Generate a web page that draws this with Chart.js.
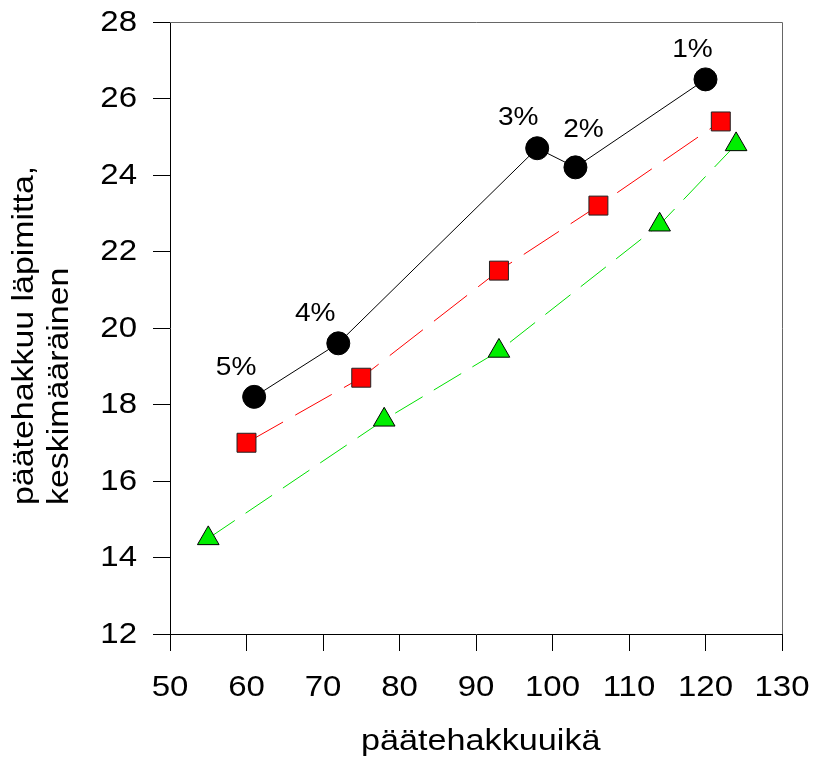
<!DOCTYPE html>
<html>
<head>
<meta charset="utf-8">
<script src="https://cdn.jsdelivr.net/npm/chart.js"></script>
<style>
  html, body { margin:0; padding:0; background:#fff; }
  #wrap { width:813px; height:766px; }
</style>
</head>
<body>
<div id="wrap"><canvas id="chart" width="813" height="766"></canvas></div>
<script>
// data
const ageBlack = [61, 72, 98, 103, 120];
const diamBlack = [18.2, 19.6, 24.7, 24.2, 26.5];
const ageRed = [60, 75, 93, 106, 122];
const diamRed = [17.0, 18.7, 21.5, 23.2, 25.4];
const ageGreen = [55, 78, 93, 114, 124];
const diamGreen = [14.5, 17.6, 19.4, 22.7, 24.8];
const pctLabels = ["5%", "4%", "3%", "2%", "1%"];

const xMin = 50, xMax = 130, xStep = 10;
const yMin = 12, yMax = 28, yStep = 2;
const xTitle = "päätehakkuuikä";
const yTitle = ["päätehakkuu läpimitta,", "keskimääräinen"];

// label offsets from the black points (px, baseline)
const labelOffsets = [[-18, -21.5], [-23, -22], [-19, -23], [8, -30.5], [-13, -22.5]];

const FONT = "'Liberation Sans', Arial, sans-serif";

// the original text is a bit wider than Arial, so stretch it a little
function txt(ctx, s, x, y, align, size, sx) {
  ctx.save();
  ctx.font = size + "px " + FONT;
  ctx.textAlign = align;
  ctx.textBaseline = "alphabetic";
  ctx.translate(x, y);
  ctx.scale(sx, 1);
  ctx.fillText(s, 0, 0);
  ctx.restore();
}

const pts = (xs, ys) => xs.map((x, i) => ({ x, y: ys[i] }));

const extras = {
  id: "extras",
  afterDraw(chart) {
    const { ctx, chartArea: a, scales } = chart;
    ctx.save();
    // top and right frame
    ctx.strokeStyle = "#666";
    ctx.lineWidth = 1;
    ctx.beginPath();
    ctx.moveTo(a.left, a.top + 0.5);
    ctx.lineTo(a.right + 0.5, a.top + 0.5);
    ctx.lineTo(a.right + 0.5, a.bottom);
    ctx.stroke();
    ctx.fillStyle = "#000";

    // tick labels
    scales.y.ticks.forEach(t => {
      txt(ctx, String(t.value), 137, scales.y.getPixelForValue(t.value) + 8.7, "right", 30, 1.1);
    });
    scales.x.ticks.forEach(t => {
      txt(ctx, String(t.value), scales.x.getPixelForValue(t.value), 696, "center", 30, 1.1);
    });

    // percent labels
    pctLabels.forEach((s, i) => {
      const px = scales.x.getPixelForValue(ageBlack[i]) + labelOffsets[i][0];
      const py = scales.y.getPixelForValue(diamBlack[i]) + labelOffsets[i][1];
      txt(ctx, s, px, py, "center", 26, 1.08);
    });

    // x title
    txt(ctx, xTitle, 361, 750, "left", 30, 1.14);

    // y title, two lines, left aligned along the axis
    ctx.translate(0, 505);
    ctx.rotate(-Math.PI / 2);
    txt(ctx, yTitle[0], 0, 33, "left", 30, 1.13);
    txt(ctx, yTitle[1], 0, 68, "left", 30, 1.13);
    ctx.restore();
  }
};

new Chart(document.getElementById("chart"), {
  type: "scatter",
  data: {
    datasets: [
      {
        data: pts(ageBlack, diamBlack),
        showLine: true,
        borderColor: "#000",
        borderWidth: 1,
        pointStyle: "circle",
        pointRadius: 11.5,
        pointBackgroundColor: "#000",
        pointBorderColor: "#000",
        pointBorderWidth: 1
      },
      {
        data: pts(ageRed, diamRed),
        showLine: true,
        borderColor: "#ff0000",
        borderWidth: 1,
        borderDash: [42, 14],
        pointStyle: "rect",
        pointRadius: 13.4,
        pointBackgroundColor: "#ff0000",
        pointBorderColor: "#222",
        pointBorderWidth: 1
      },
      {
        data: pts(ageGreen, diamGreen),
        showLine: true,
        borderColor: "#00e000",
        borderWidth: 1,
        borderDash: [32, 13],
        pointStyle: "triangle",
        pointRadius: 12.5,
        pointBackgroundColor: "#00ee00",
        pointBorderColor: "#000",
        pointBorderWidth: 1
      }
    ]
  },
  options: {
    responsive: false,
    animation: false,
    layout: { padding: { left: 0, right: 31, top: 22, bottom: 0 } },
    plugins: { legend: { display: false }, tooltip: { enabled: false } },
    scales: {
      x: {
        type: "linear",
        min: xMin, max: xMax,
        afterFit: s => { s.height = 132; },
        ticks: { stepSize: xStep, display: false },
        grid: { drawOnChartArea: false, drawTicks: true, tickLength: 17, color: "#000" },
        border: { color: "#000", width: 1 }
      },
      y: {
        type: "linear",
        min: yMin, max: yMax,
        afterFit: s => { s.width = 170; },
        ticks: { stepSize: yStep, display: false },
        grid: { drawOnChartArea: false, drawTicks: true, tickLength: 17, color: "#000" },
        border: { color: "#000", width: 1 }
      }
    }
  },
  plugins: [extras]
});
</script>
</body>
</html>
